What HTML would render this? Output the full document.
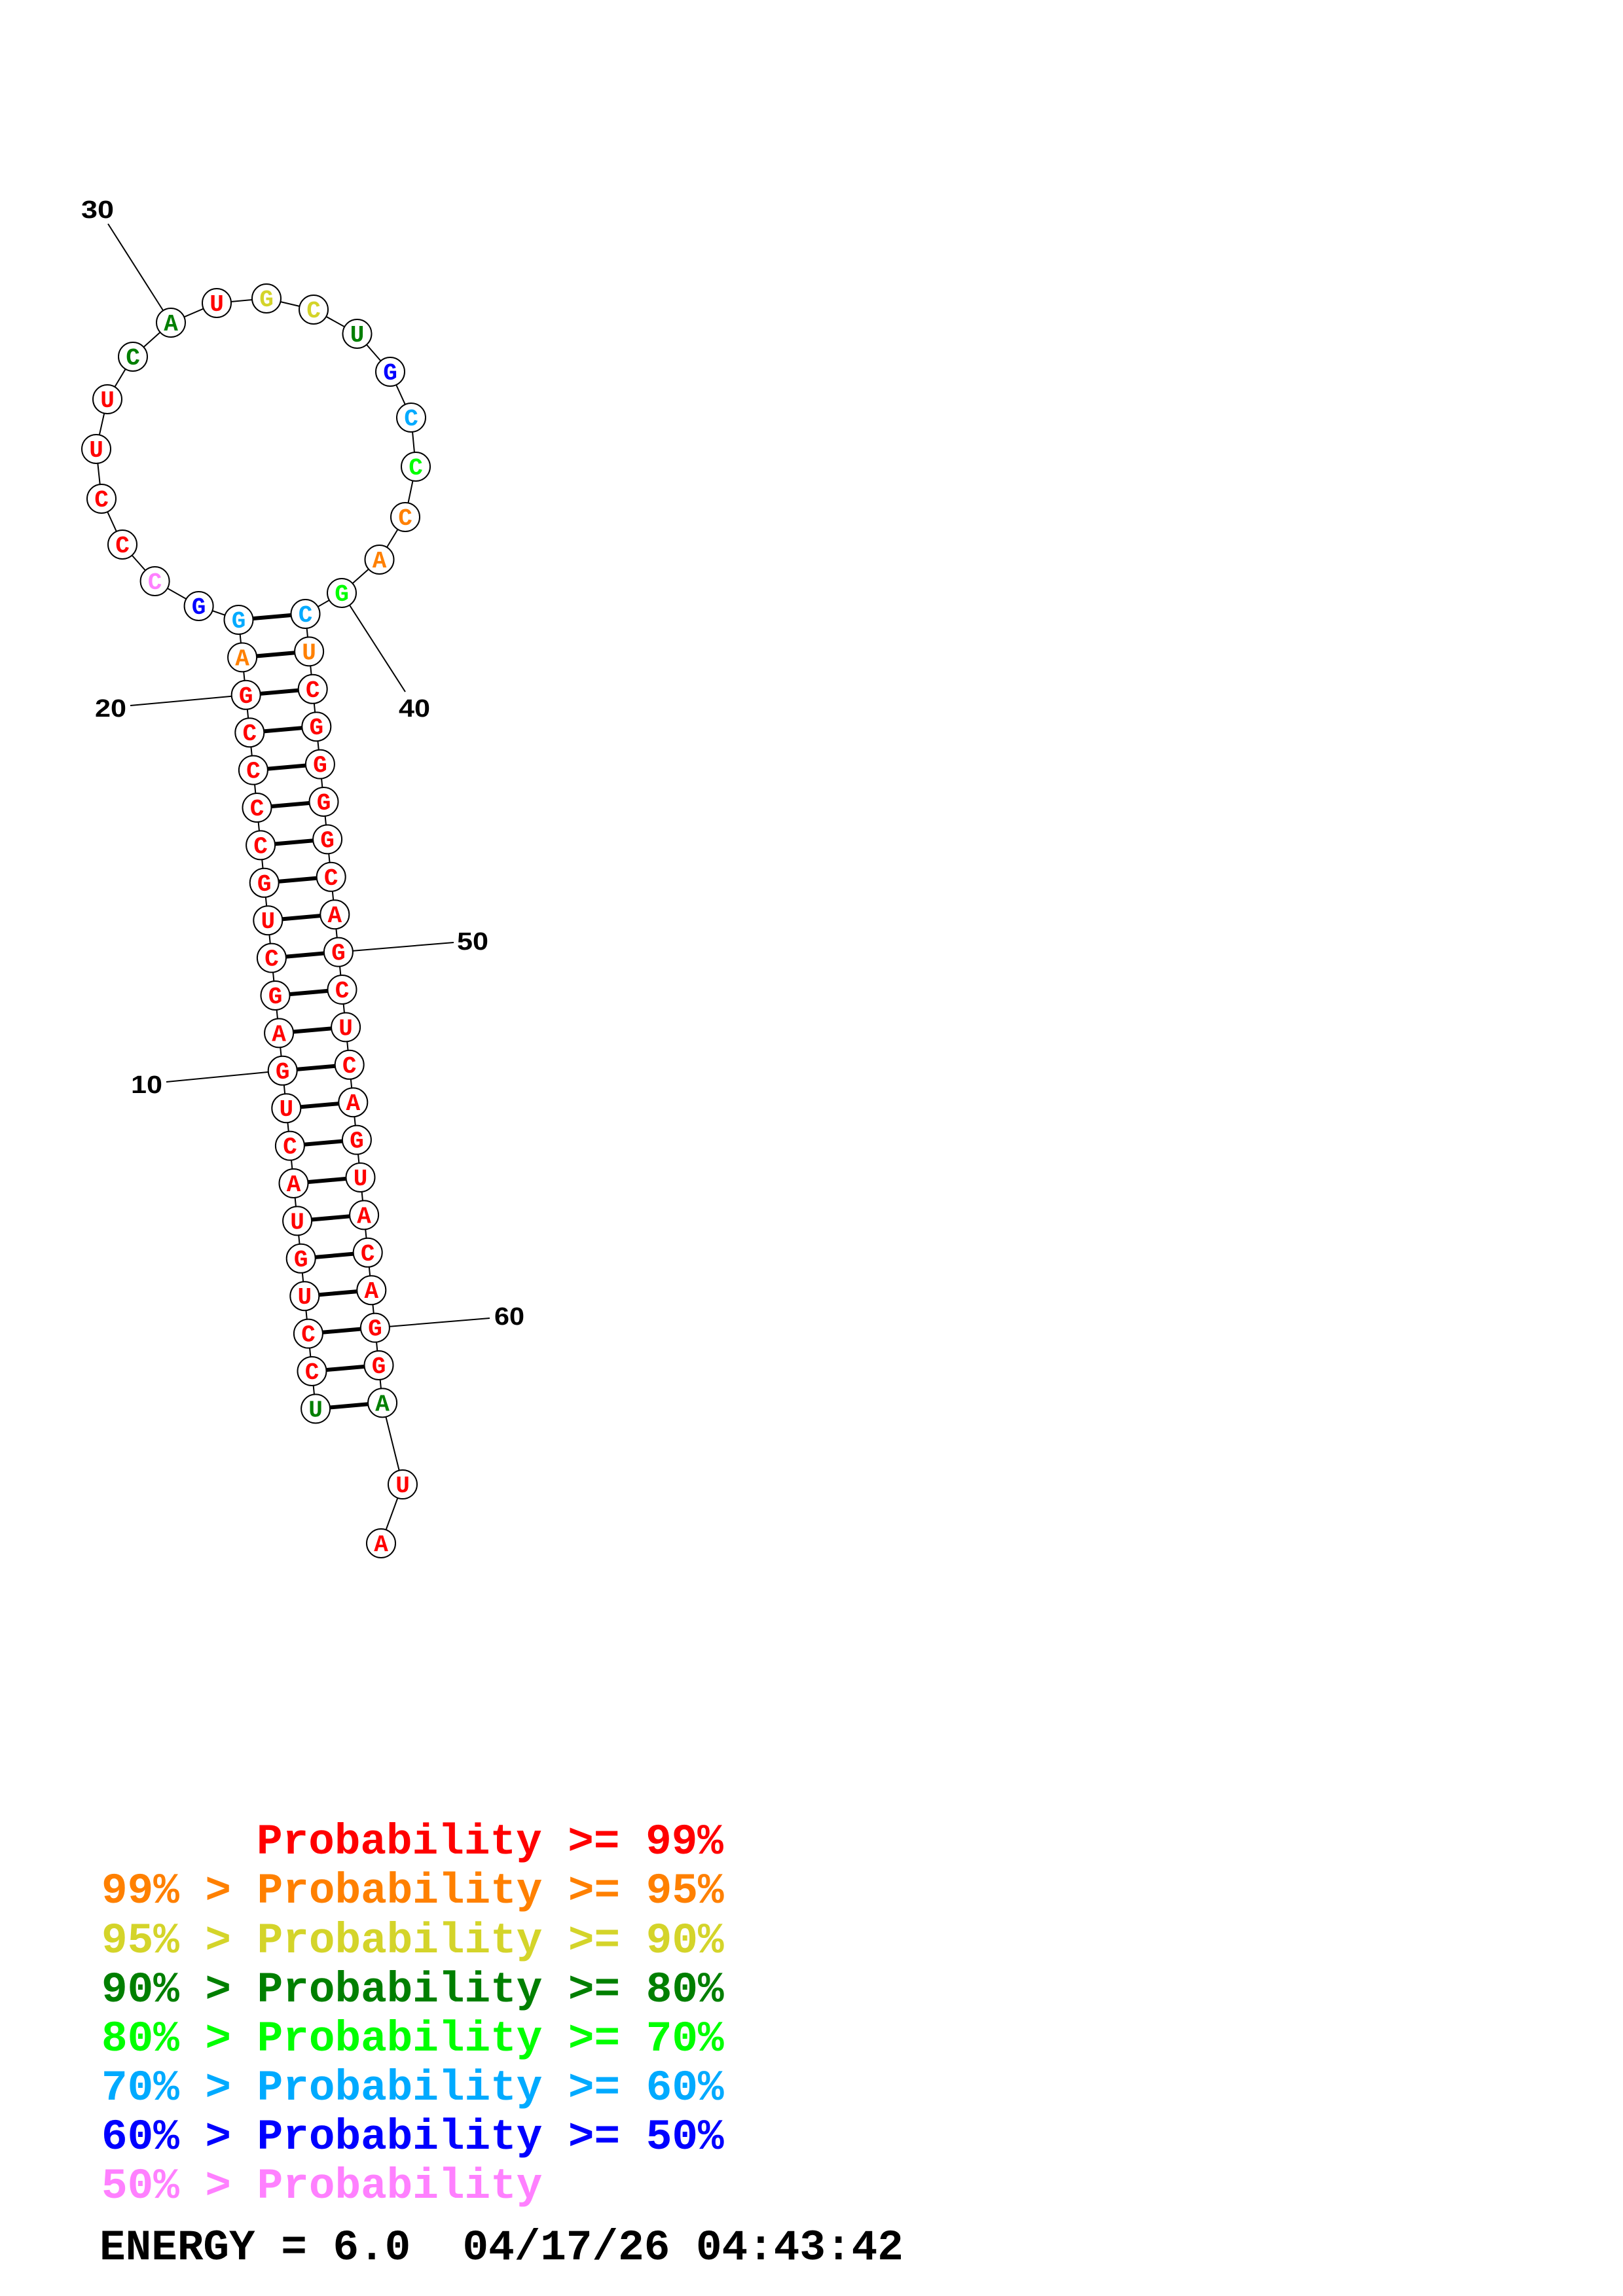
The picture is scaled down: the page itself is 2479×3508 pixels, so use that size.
<!DOCTYPE html>
<html><head><meta charset="utf-8"><style>html,body{margin:0;padding:0;background:#fff}svg{display:block}.n circle{fill:#fff;stroke:#000;stroke-width:2}.n text{font-family:'Liberation Mono',monospace;font-weight:bold;font-size:36px;text-anchor:middle}.lg text{white-space:pre}</style></head>
<body>
<svg xmlns="http://www.w3.org/2000/svg" width="2479" height="3508" viewBox="0 0 2479 3508">
<rect width="2479" height="3508" fill="#fff"/>
<g stroke="#000" stroke-width="2" fill="none">
<line x1="165" y1="342" x2="261" y2="493"/>
<line x1="522" y1="906" x2="619" y2="1057"/>
<line x1="375.7" y1="1061.8" x2="199" y2="1078"/>
<line x1="431.7" y1="1635.8" x2="254" y2="1653"/>
<line x1="516.9" y1="1454.6" x2="693" y2="1440"/>
<line x1="572.9" y1="2028.6" x2="748" y2="2014"/>
<polyline points="482.1,2152.4 476.5,2095 470.9,2037.6 465.3,1980.2 459.7,1922.8 454.1,1865.4 448.5,1808 442.9,1750.6 437.3,1693.2 431.7,1635.8 426.1,1578.4 420.5,1521 414.9,1463.6 409.3,1406.2 403.7,1348.8 398.1,1291.4 392.5,1234 386.9,1176.6 381.3,1119.2 375.7,1061.8 370.1,1004.4 364.5,947 303.6,926 236.6,888 187,832 155,762 147,686 164,610 203,545 261,493 331,463 407,456 479,473 545.5,510 596,568 628,638 635,713 619,790 579.5,855 522,906 466.5,938 472.1,995.4 477.7,1052.8 483.3,1110.2 488.9,1167.6 494.5,1225 500.1,1282.4 505.7,1339.8 511.3,1397.2 516.9,1454.6 522.5,1512 528.1,1569.4 533.7,1626.8 539.3,1684.2 544.9,1741.6 550.5,1799 556.1,1856.4 561.7,1913.8 567.3,1971.2 572.9,2028.6 578.5,2086 584.1,2143.4 615,2268 582,2358"/>
</g>
<g stroke="#000" stroke-width="6">
<line x1="364.5" y1="947" x2="466.5" y2="938"/>
<line x1="370.1" y1="1004.4" x2="472.1" y2="995.4"/>
<line x1="375.7" y1="1061.8" x2="477.7" y2="1052.8"/>
<line x1="381.3" y1="1119.2" x2="483.3" y2="1110.2"/>
<line x1="386.9" y1="1176.6" x2="488.9" y2="1167.6"/>
<line x1="392.5" y1="1234" x2="494.5" y2="1225"/>
<line x1="398.1" y1="1291.4" x2="500.1" y2="1282.4"/>
<line x1="403.7" y1="1348.8" x2="505.7" y2="1339.8"/>
<line x1="409.3" y1="1406.2" x2="511.3" y2="1397.2"/>
<line x1="414.9" y1="1463.6" x2="516.9" y2="1454.6"/>
<line x1="420.5" y1="1521" x2="522.5" y2="1512"/>
<line x1="426.1" y1="1578.4" x2="528.1" y2="1569.4"/>
<line x1="431.7" y1="1635.8" x2="533.7" y2="1626.8"/>
<line x1="437.3" y1="1693.2" x2="539.3" y2="1684.2"/>
<line x1="442.9" y1="1750.6" x2="544.9" y2="1741.6"/>
<line x1="448.5" y1="1808" x2="550.5" y2="1799"/>
<line x1="454.1" y1="1865.4" x2="556.1" y2="1856.4"/>
<line x1="459.7" y1="1922.8" x2="561.7" y2="1913.8"/>
<line x1="465.3" y1="1980.2" x2="567.3" y2="1971.2"/>
<line x1="470.9" y1="2037.6" x2="572.9" y2="2028.6"/>
<line x1="476.5" y1="2095" x2="578.5" y2="2086"/>
<line x1="482.1" y1="2152.4" x2="584.1" y2="2143.4"/>
</g>
<g class="n">
<circle cx="364.5" cy="947" r="22"/><text x="364.5" y="959" fill="#00aaff">G</text>
<circle cx="370.1" cy="1004.4" r="22"/><text x="370.1" y="1016.4" fill="#ff8000">A</text>
<circle cx="375.7" cy="1061.8" r="22"/><text x="375.7" y="1073.8" fill="#ff0000">G</text>
<circle cx="381.3" cy="1119.2" r="22"/><text x="381.3" y="1131.2" fill="#ff0000">C</text>
<circle cx="386.9" cy="1176.6" r="22"/><text x="386.9" y="1188.6" fill="#ff0000">C</text>
<circle cx="392.5" cy="1234" r="22"/><text x="392.5" y="1246" fill="#ff0000">C</text>
<circle cx="398.1" cy="1291.4" r="22"/><text x="398.1" y="1303.4" fill="#ff0000">C</text>
<circle cx="403.7" cy="1348.8" r="22"/><text x="403.7" y="1360.8" fill="#ff0000">G</text>
<circle cx="409.3" cy="1406.2" r="22"/><text x="409.3" y="1418.2" fill="#ff0000">U</text>
<circle cx="414.9" cy="1463.6" r="22"/><text x="414.9" y="1475.6" fill="#ff0000">C</text>
<circle cx="420.5" cy="1521" r="22"/><text x="420.5" y="1533" fill="#ff0000">G</text>
<circle cx="426.1" cy="1578.4" r="22"/><text x="426.1" y="1590.4" fill="#ff0000">A</text>
<circle cx="431.7" cy="1635.8" r="22"/><text x="431.7" y="1647.8" fill="#ff0000">G</text>
<circle cx="437.3" cy="1693.2" r="22"/><text x="437.3" y="1705.2" fill="#ff0000">U</text>
<circle cx="442.9" cy="1750.6" r="22"/><text x="442.9" y="1762.6" fill="#ff0000">C</text>
<circle cx="448.5" cy="1808" r="22"/><text x="448.5" y="1820" fill="#ff0000">A</text>
<circle cx="454.1" cy="1865.4" r="22"/><text x="454.1" y="1877.4" fill="#ff0000">U</text>
<circle cx="459.7" cy="1922.8" r="22"/><text x="459.7" y="1934.8" fill="#ff0000">G</text>
<circle cx="465.3" cy="1980.2" r="22"/><text x="465.3" y="1992.2" fill="#ff0000">U</text>
<circle cx="470.9" cy="2037.6" r="22"/><text x="470.9" y="2049.6" fill="#ff0000">C</text>
<circle cx="476.5" cy="2095" r="22"/><text x="476.5" y="2107" fill="#ff0000">C</text>
<circle cx="482.1" cy="2152.4" r="22"/><text x="482.1" y="2164.4" fill="#007f00">U</text>

<circle cx="466.5" cy="938" r="22"/><text x="466.5" y="950" fill="#00aaff">C</text>
<circle cx="472.1" cy="995.4" r="22"/><text x="472.1" y="1007.4" fill="#ff8000">U</text>
<circle cx="477.7" cy="1052.8" r="22"/><text x="477.7" y="1064.8" fill="#ff0000">C</text>
<circle cx="483.3" cy="1110.2" r="22"/><text x="483.3" y="1122.2" fill="#ff0000">G</text>
<circle cx="488.9" cy="1167.6" r="22"/><text x="488.9" y="1179.6" fill="#ff0000">G</text>
<circle cx="494.5" cy="1225" r="22"/><text x="494.5" y="1237" fill="#ff0000">G</text>
<circle cx="500.1" cy="1282.4" r="22"/><text x="500.1" y="1294.4" fill="#ff0000">G</text>
<circle cx="505.7" cy="1339.8" r="22"/><text x="505.7" y="1351.8" fill="#ff0000">C</text>
<circle cx="511.3" cy="1397.2" r="22"/><text x="511.3" y="1409.2" fill="#ff0000">A</text>
<circle cx="516.9" cy="1454.6" r="22"/><text x="516.9" y="1466.6" fill="#ff0000">G</text>
<circle cx="522.5" cy="1512" r="22"/><text x="522.5" y="1524" fill="#ff0000">C</text>
<circle cx="528.1" cy="1569.4" r="22"/><text x="528.1" y="1581.4" fill="#ff0000">U</text>
<circle cx="533.7" cy="1626.8" r="22"/><text x="533.7" y="1638.8" fill="#ff0000">C</text>
<circle cx="539.3" cy="1684.2" r="22"/><text x="539.3" y="1696.2" fill="#ff0000">A</text>
<circle cx="544.9" cy="1741.6" r="22"/><text x="544.9" y="1753.6" fill="#ff0000">G</text>
<circle cx="550.5" cy="1799" r="22"/><text x="550.5" y="1811" fill="#ff0000">U</text>
<circle cx="556.1" cy="1856.4" r="22"/><text x="556.1" y="1868.4" fill="#ff0000">A</text>
<circle cx="561.7" cy="1913.8" r="22"/><text x="561.7" y="1925.8" fill="#ff0000">C</text>
<circle cx="567.3" cy="1971.2" r="22"/><text x="567.3" y="1983.2" fill="#ff0000">A</text>
<circle cx="572.9" cy="2028.6" r="22"/><text x="572.9" y="2040.6" fill="#ff0000">G</text>
<circle cx="578.5" cy="2086" r="22"/><text x="578.5" y="2098" fill="#ff0000">G</text>
<circle cx="584.1" cy="2143.4" r="22"/><text x="584.1" y="2155.4" fill="#007f00">A</text>
<circle cx="615" cy="2268" r="22"/><text x="615" y="2280" fill="#ff0000">U</text>
<circle cx="582" cy="2358" r="22"/><text x="582" y="2370" fill="#ff0000">A</text>

<circle cx="303.6" cy="926" r="22"/><text x="303.6" y="938" fill="#0000ff">G</text>
<circle cx="236.6" cy="888" r="22"/><text x="236.6" y="900" fill="#ff80ff">C</text>
<circle cx="187" cy="832" r="22"/><text x="187" y="844" fill="#ff0000">C</text>
<circle cx="155" cy="762" r="22"/><text x="155" y="774" fill="#ff0000">C</text>
<circle cx="147" cy="686" r="22"/><text x="147" y="698" fill="#ff0000">U</text>
<circle cx="164" cy="610" r="22"/><text x="164" y="622" fill="#ff0000">U</text>
<circle cx="203" cy="545" r="22"/><text x="203" y="557" fill="#007f00">C</text>
<circle cx="261" cy="493" r="22"/><text x="261" y="505" fill="#007f00">A</text>
<circle cx="331" cy="463" r="22"/><text x="331" y="475" fill="#ff0000">U</text>
<circle cx="407" cy="456" r="22"/><text x="407" y="468" fill="#d4d42a">G</text>
<circle cx="479" cy="473" r="22"/><text x="479" y="485" fill="#d4d42a">C</text>
<circle cx="545.5" cy="510" r="22"/><text x="545.5" y="522" fill="#007f00">U</text>
<circle cx="596" cy="568" r="22"/><text x="596" y="580" fill="#0000ff">G</text>
<circle cx="628" cy="638" r="22"/><text x="628" y="650" fill="#00aaff">C</text>
<circle cx="635" cy="713" r="22"/><text x="635" y="725" fill="#00ff00">C</text>
<circle cx="619" cy="790" r="22"/><text x="619" y="802" fill="#ff8000">C</text>
<circle cx="579.5" cy="855" r="22"/><text x="579.5" y="867" fill="#ff8000">A</text>
<circle cx="522" cy="906" r="22"/><text x="522" y="918" fill="#00ff00">G</text>
</g>
<g font-family="'Liberation Sans',sans-serif" font-weight="bold" font-size="38" fill="#000">
<text x="124" y="333" textLength="50" lengthAdjust="spacingAndGlyphs">30</text>
<text x="609" y="1095" textLength="48" lengthAdjust="spacingAndGlyphs">40</text>
<text x="145" y="1095" textLength="48" lengthAdjust="spacingAndGlyphs">20</text>
<text x="698" y="1451" textLength="48" lengthAdjust="spacingAndGlyphs">50</text>
<text x="200" y="1670" textLength="48" lengthAdjust="spacingAndGlyphs">10</text>
<text x="755" y="2024" textLength="46" lengthAdjust="spacingAndGlyphs">60</text>
</g>
<g class="lg" font-family="'Liberation Mono',monospace" font-weight="bold" font-size="66">
<text x="392" y="2832" fill="#ff0000">Probability &gt;= 99%</text>
<text x="155" y="2907" fill="#ff8000">99% &gt; Probability &gt;= 95%</text>
<text x="155" y="2983" fill="#d4d42a">95% &gt; Probability &gt;= 90%</text>
<text x="155" y="3058" fill="#007f00">90% &gt; Probability &gt;= 80%</text>
<text x="155" y="3133" fill="#00ff00">80% &gt; Probability &gt;= 70%</text>
<text x="155" y="3208" fill="#00aaff">70% &gt; Probability &gt;= 60%</text>
<text x="155" y="3283" fill="#0000ff">60% &gt; Probability &gt;= 50%</text>
<text x="155" y="3358" fill="#ff80ff">50% &gt; Probability</text>
<text x="152" y="3452" fill="#000">ENERGY = 6.0&#160;&#160;04/17/26 04:43:42</text>
</g>
</svg>
</body></html>
